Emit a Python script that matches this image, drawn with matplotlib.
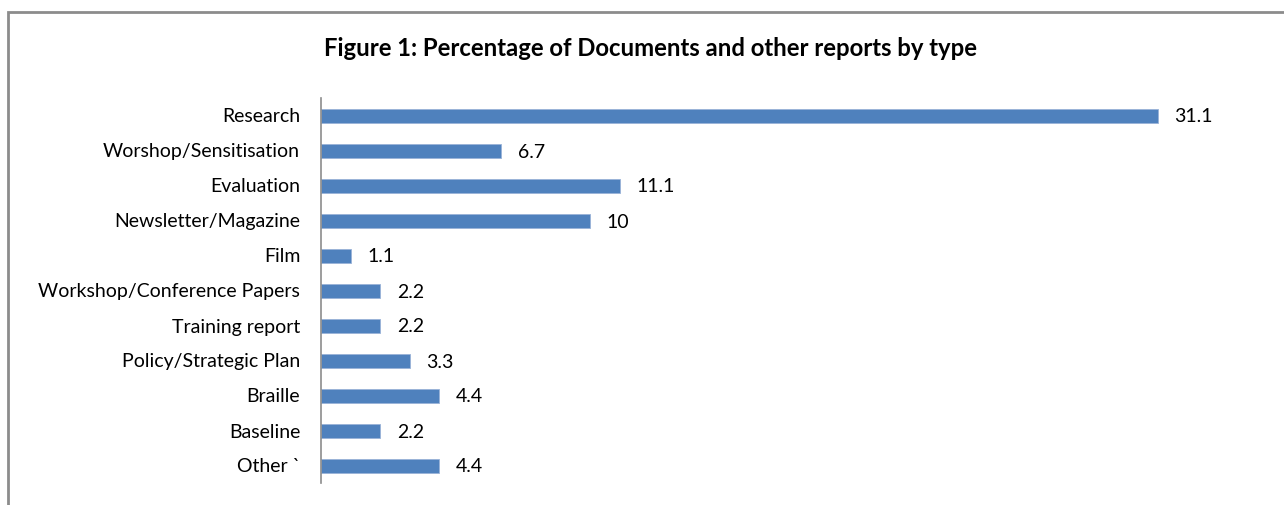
import matplotlib
matplotlib.use("Agg")
import matplotlib.pyplot as plt
from matplotlib.patches import Rectangle

categories = ["Research", "Worshop/Sensitisation", "Evaluation", "Newsletter/Magazine",
              "Film", "Workshop/Conference Papers", "Training report",
              "Policy/Strategic Plan", "Braille", "Baseline", "Other `"]
values = [31.1, 6.7, 11.1, 10, 1.1, 2.2, 2.2, 3.3, 4.4, 2.2, 4.4]
value_labels = ["31.1", "6.7", "11.1", "10", "1.1", "2.2", "2.2", "3.3", "4.4", "2.2", "4.4"]
title = "Figure 1: Percentage of Documents and other reports by type"

plt.rcParams['font.family'] = ['Lato', 'DejaVu Sans']

W, H = 1284, 505
fig = plt.figure(figsize=(W / 100, H / 100), dpi=100)

# outer border (cut at right/bottom like the reference)
fig.patches.append(Rectangle((8 / W, -0.05), 1.2, 1 - 12 / H + 0.05,
                             transform=fig.transFigure, fill=False,
                             edgecolor="#8c8c8c", linewidth=2))

ax = fig.add_axes([321 / W, 1 - 483 / H, 941.5 / W, (483 - 98) / H])
y = list(range(len(categories)))
ax.barh(y, values, height=0.4, color="#4F81BD", edgecolor="#9ab3d8", linewidth=0.6)
ax.set_ylim(len(categories) - 0.5, -0.5)
ax.set_xlim(0, 35)
ax.set_yticks(y)
ax.set_yticklabels(categories, fontsize=14)
ax.tick_params(axis="y", length=0, pad=15)
ax.set_xticks([])
for s in ["top", "right", "bottom"]:
    ax.spines[s].set_visible(False)
ax.spines["left"].set_color("#8c8c8c")
ax.spines["left"].set_linewidth(1.2)

for yi, v, lab in zip(y, values, value_labels):
    ax.annotate(lab, (v, yi), xytext=(12, 0), textcoords="offset points",
                va="center_baseline", ha="left", fontsize=14)

fig.text(650 / W, 1 - 49 / H, title, ha="center", va="center",
         fontsize=17.2, fontweight="bold")

fig.savefig("out.png", dpi=100)
